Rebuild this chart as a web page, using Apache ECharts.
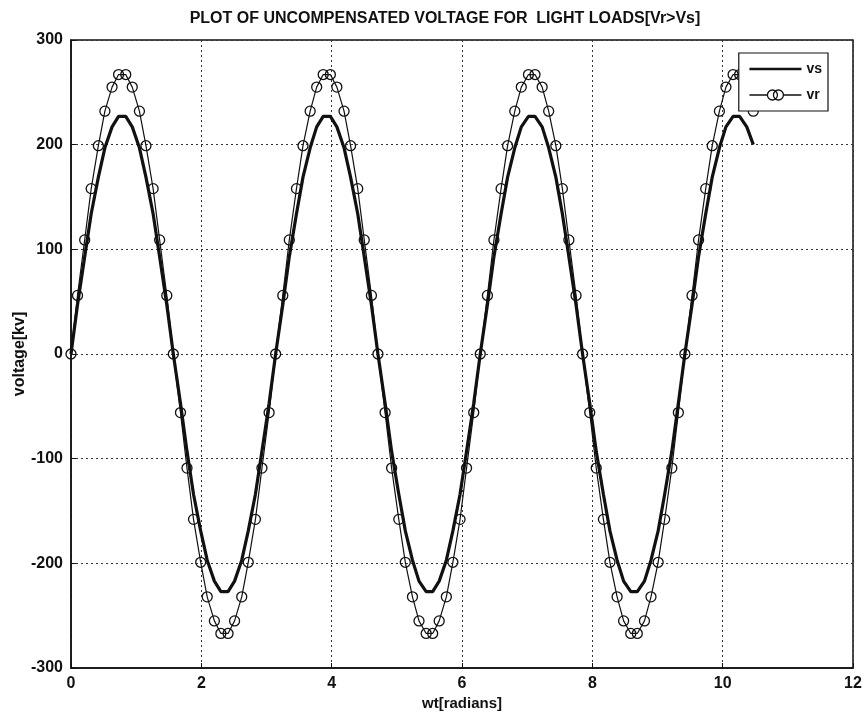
<!DOCTYPE html>
<html>
<head>
<meta charset="utf-8">
<script src="https://cdn.jsdelivr.net/npm/echarts@6/dist/echarts.min.js"></script>
<style>html,body{margin:0;padding:0;background:#fff;}#c{width:865px;height:717px;}</style>
</head>
<body>
<div id="c"></div>
<script>
var titleText = 'PLOT OF UNCOMPENSATED VOLTAGE FOR  LIGHT LOADS[Vr>Vs]';
var xName = 'wt[radians]';
var yName = 'voltage[kv]';
var xTicks = [0, 2, 4, 6, 8, 10, 12];
var yTicks = [-300, -200, -100, 0, 100, 200, 300];

var wt = [
  0.00, 0.10, 0.21, 0.31, 0.42, 0.52, 0.63, 0.73, 0.84, 0.94,
  1.05, 1.15, 1.26, 1.36, 1.47, 1.57, 1.68, 1.78, 1.88, 1.99,
  2.09, 2.20, 2.30, 2.41, 2.51, 2.62, 2.72, 2.83, 2.93, 3.04,
  3.14, 3.25, 3.35, 3.46, 3.56, 3.67, 3.77, 3.87, 3.98, 4.08,
  4.19, 4.29, 4.40, 4.50, 4.61, 4.71, 4.82, 4.92, 5.03, 5.13,
  5.24, 5.34, 5.45, 5.55, 5.65, 5.76, 5.86, 5.97, 6.07, 6.18,
  6.28, 6.39, 6.49, 6.60, 6.70, 6.81, 6.91, 7.02, 7.12, 7.23,
  7.33, 7.44, 7.54, 7.64, 7.75, 7.85, 7.96, 8.06, 8.17, 8.27,
  8.38, 8.48, 8.59, 8.69, 8.80, 8.90, 9.01, 9.11, 9.22, 9.32,
  9.42, 9.53, 9.63, 9.74, 9.84, 9.95, 10.05, 10.16, 10.26, 10.37,
  10.47
];

var vs = [
  0, 47, 93, 134, 169, 197, 217, 227, 227, 217,
  197, 169, 134, 93, 47, 0, -47, -93, -134, -169,
  -197, -217, -227, -227, -217, -197, -169, -134, -93, -47,
  0, 47, 93, 134, 169, 197, 217, 227, 227, 217,
  197, 169, 134, 93, 47, 0, -47, -93, -134, -169,
  -197, -217, -227, -227, -217, -197, -169, -134, -93, -47,
  0, 47, 93, 134, 169, 197, 217, 227, 227, 217,
  197, 169, 134, 93, 47, 0, -47, -93, -134, -169,
  -197, -217, -227, -227, -217, -197, -169, -134, -93, -47,
  0, 47, 93, 134, 169, 197, 217, 227, 227, 217,
  200
];

var vr = [
  0, 56, 109, 158, 199, 232, 255, 267, 267, 255,
  232, 199, 158, 109, 56, 0, -56, -109, -158, -199,
  -232, -255, -267, -267, -255, -232, -199, -158, -109, -56,
  0, 56, 109, 158, 199, 232, 255, 267, 267, 255,
  232, 199, 158, 109, 56, 0, -56, -109, -158, -199,
  -232, -255, -267, -267, -255, -232, -199, -158, -109, -56,
  0, 56, 109, 158, 199, 232, 255, 267, 267, 255,
  232, 199, 158, 109, 56, 0, -56, -109, -158, -199,
  -232, -255, -267, -267, -255, -232, -199, -158, -109, -56,
  0, 56, 109, 158, 199, 232, 255, 267, 267, 255,
  232
];

function pairs(xs, ys) { return xs.map(function (x, i) { return [x, ys[i]]; }); }

var FONT = '"Liberation Sans", Arial, sans-serif';
var chart = echarts.init(document.getElementById('c'), null, {renderer: 'canvas'});
chart.setOption({
  backgroundColor: '#fff',
  animation: false,
  title: {
    text: titleText,
    left: 440, top: 6, textAlign: 'center',
    textStyle: {fontFamily: FONT, fontSize: 16, fontWeight: 'bold', color: '#111'}
  },
  grid: {left: 71, right: 12, top: 40, bottom: 49, show: true, borderColor: '#111', borderWidth: 1.5,
         backgroundColor: 'transparent', containLabel: false, outerBoundsMode: 'none'},
  legend: {
    right: 37, top: 53, orient: 'vertical', z: 20, zlevel: 0,
    backgroundColor: '#fff', borderColor: '#111', borderWidth: 1.2, borderRadius: 0,
    padding: [9, 6, 9, 10], itemGap: 12, itemWidth: 52, itemHeight: 12,
    textStyle: {fontFamily: FONT, fontSize: 14, fontWeight: 'bold', color: '#111'},
    data: [
      {name: 'vs', icon: 'path://M0,5 L52,5 L52,7.5 L0,7.5 Z', itemStyle: {color: '#111', borderWidth: 0}},
      {name: 'vr', icon: 'path://M0,6 L18,6 M18,6 A5,5 0 1 1 28,6 A5,5 0 1 1 18,6 M24,6 A5,5 0 1 1 34,6 A5,5 0 1 1 24,6 M34,6 L52,6',
       itemStyle: {color: 'rgba(0,0,0,0)', borderColor: '#111', borderWidth: 1.3}}
    ]
  },
  xAxis: {
    type: 'value', min: xTicks[0], max: xTicks[xTicks.length - 1], interval: 2,
    name: xName, nameLocation: 'middle', nameGap: 28, nameMoveOverlap: false,
    nameTextStyle: {fontFamily: FONT, fontSize: 15, fontWeight: 'bold', color: '#111'},
    axisLine: {show: true, onZero: false, lineStyle: {color: '#111', width: 1.5}},
    axisTick: {show: true, inside: true, length: 5, lineStyle: {color: '#111'}},
    axisLabel: {fontFamily: FONT, fontSize: 16, fontWeight: 'bold', color: '#111', margin: 8},
    splitLine: {show: true, lineStyle: {color: '#333', type: [2, 3], width: 1}}
  },
  yAxis: {
    type: 'value', min: yTicks[0], max: yTicks[yTicks.length - 1], interval: 100,
    name: yName, nameLocation: 'middle', nameGap: 43, nameMoveOverlap: false,
    nameTextStyle: {fontFamily: FONT, fontSize: 16, fontWeight: 'bold', color: '#111'},
    axisLine: {show: true, onZero: false, lineStyle: {color: '#111', width: 1.5}},
    axisTick: {show: true, inside: true, length: 5, lineStyle: {color: '#111'}},
    axisLabel: {fontFamily: FONT, fontSize: 16, fontWeight: 'bold', color: '#111', margin: 8},
    splitLine: {show: true, lineStyle: {color: '#333', type: [2, 3], width: 1}}
  },
  series: [
    {
      name: 'vs', type: 'line', data: pairs(wt, vs), showSymbol: false, symbol: 'none',
      lineStyle: {color: '#111', width: 3.2}, itemStyle: {color: '#111'}, z: 2
    },
    {
      name: 'vr', type: 'line', data: pairs(wt, vr), symbol: 'circle', symbolSize: 10, showSymbol: true,
      showAllSymbol: true,
      lineStyle: {color: '#111', width: 1.2},
      itemStyle: {color: 'rgba(255,255,255,0)', borderColor: '#111', borderWidth: 1.3}, z: 3
    }
  ]
});
</script>
</body>
</html>
